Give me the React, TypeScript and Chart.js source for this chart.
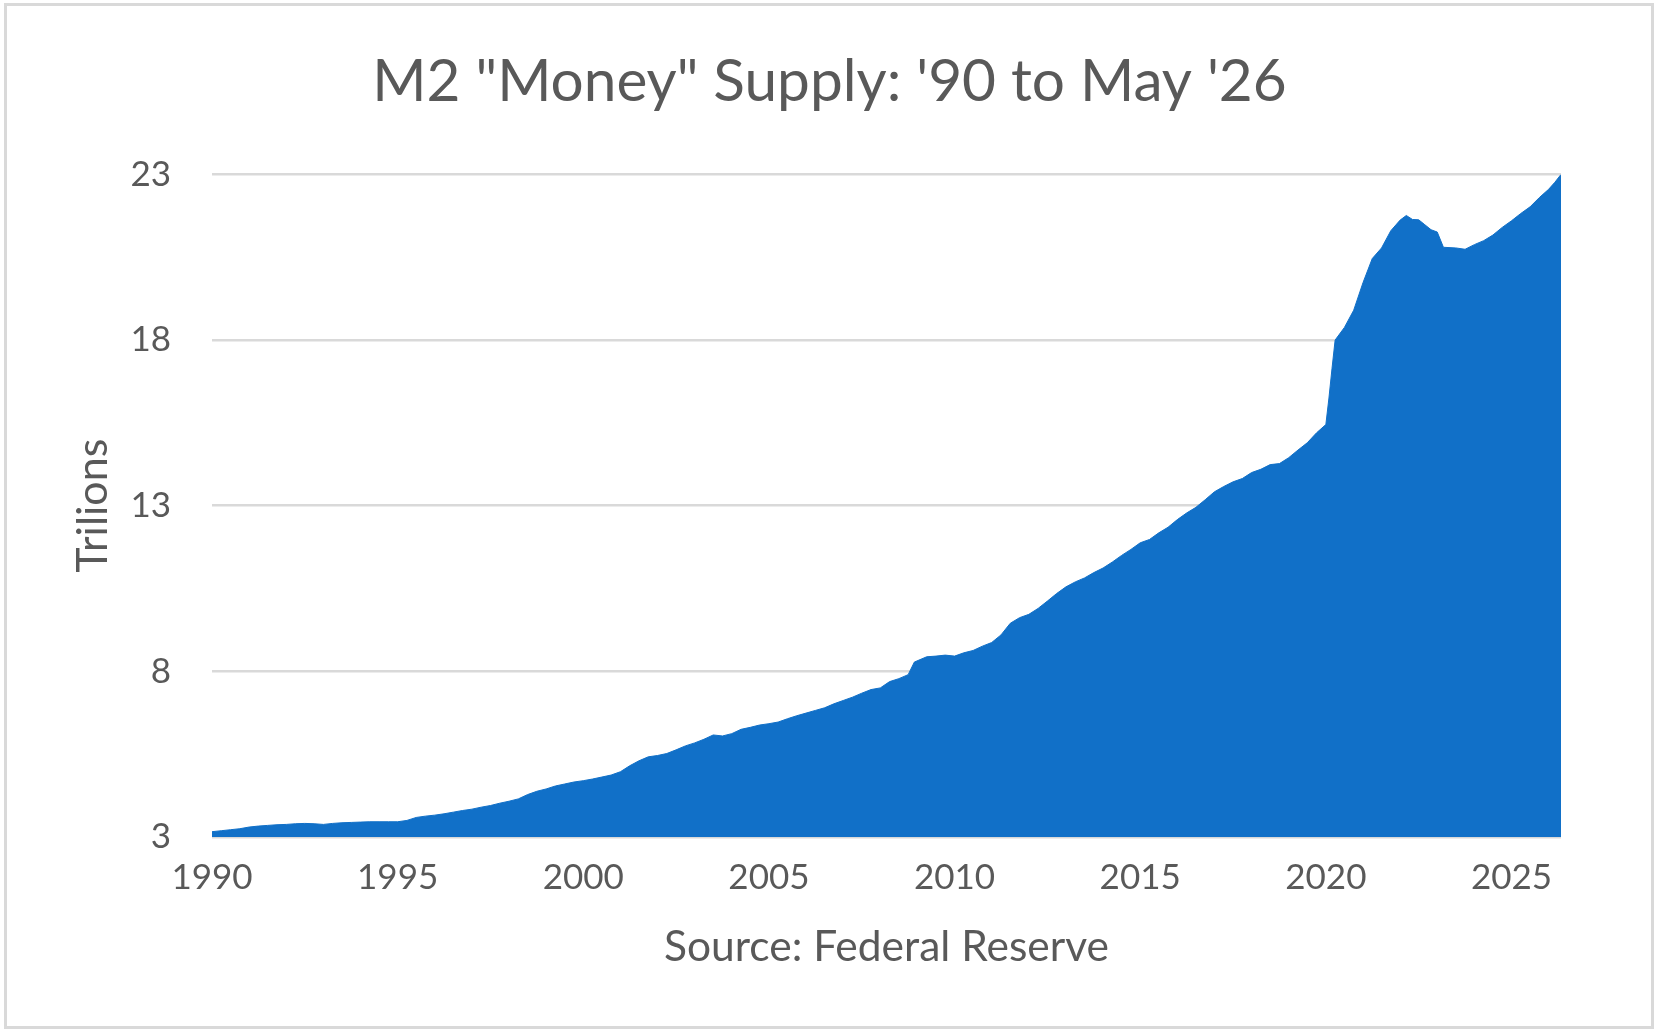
import { useEffect, useRef } from "react";
import { Chart, registerables } from "chart.js";

Chart.register(...registerables);

const dates = [
  "1990-01", "1990-04", "1990-07", "1990-10",
  "1991-01", "1991-04", "1991-07", "1991-10",
  "1992-01", "1992-04", "1992-07", "1992-10",
  "1993-01", "1993-04", "1993-07", "1993-10",
  "1994-01", "1994-04", "1994-07", "1994-10",
  "1995-01", "1995-04", "1995-07", "1995-10",
  "1996-01", "1996-04", "1996-07", "1996-10",
  "1997-01", "1997-04", "1997-07", "1997-10",
  "1998-01", "1998-04", "1998-07", "1998-10",
  "1999-01", "1999-04", "1999-07", "1999-10",
  "2000-01", "2000-04", "2000-07", "2000-10",
  "2001-01", "2001-04", "2001-07", "2001-10",
  "2002-01", "2002-04", "2002-07", "2002-10",
  "2003-01", "2003-04", "2003-07", "2003-10",
  "2004-01", "2004-04", "2004-07", "2004-10",
  "2005-01", "2005-04", "2005-07", "2005-10",
  "2006-01", "2006-04", "2006-07", "2006-10",
  "2007-01", "2007-04", "2007-07", "2007-10",
  "2008-01", "2008-04", "2008-07", "2008-10", "2008-12",
  "2009-04", "2009-07", "2009-10",
  "2010-01", "2010-04", "2010-07", "2010-10",
  "2011-01", "2011-04", "2011-07", "2011-10",
  "2012-01", "2012-04", "2012-07", "2012-10",
  "2013-01", "2013-04", "2013-07", "2013-10",
  "2014-01", "2014-04", "2014-07", "2014-10",
  "2015-01", "2015-04", "2015-07", "2015-10",
  "2016-01", "2016-04", "2016-07", "2016-10",
  "2017-01", "2017-04", "2017-07", "2017-10",
  "2018-01", "2018-04", "2018-07", "2018-10",
  "2019-01", "2019-04", "2019-07", "2019-10",
  "2020-01", "2020-02", "2020-03", "2020-04", "2020-07", "2020-10",
  "2021-01", "2021-04", "2021-07", "2021-10",
  "2022-01", "2022-03", "2022-05", "2022-07", "2022-09", "2022-11",
  "2023-01", "2023-03", "2023-07", "2023-10",
  "2024-01", "2024-04", "2024-07", "2024-10",
  "2025-01", "2025-04", "2025-07", "2025-10",
  "2026-01", "2026-03", "2026-05",
];

const m2Trillions = [
  3.16, 3.19, 3.22, 3.25,
  3.3, 3.33, 3.35, 3.37,
  3.38, 3.4, 3.41, 3.4,
  3.38, 3.41, 3.43, 3.44,
  3.45, 3.46, 3.46, 3.46,
  3.46, 3.5, 3.59, 3.63,
  3.66, 3.7, 3.75, 3.8,
  3.84, 3.9, 3.95, 4.02,
  4.08, 4.15, 4.28, 4.38,
  4.45, 4.54, 4.6, 4.66,
  4.7, 4.75, 4.81, 4.87,
  4.97, 5.15, 5.3, 5.42,
  5.46, 5.52, 5.63, 5.75,
  5.84, 5.95, 6.08, 6.05,
  6.12, 6.25, 6.31, 6.38,
  6.42, 6.47, 6.57, 6.66,
  6.74, 6.82, 6.9, 7.02,
  7.12, 7.22, 7.34, 7.45,
  7.5, 7.69, 7.78, 7.9, 8.28,
  8.44, 8.46, 8.49,
  8.46, 8.56, 8.63, 8.76,
  8.87, 9.1, 9.45, 9.62,
  9.72, 9.9, 10.12, 10.35,
  10.55, 10.7, 10.82, 10.98,
  11.12, 11.3, 11.5, 11.68,
  11.88, 11.98, 12.18, 12.35,
  12.58, 12.78, 12.95, 13.18,
  13.42, 13.58, 13.72, 13.82,
  14.0, 14.1, 14.24, 14.27,
  14.45, 14.68, 14.9, 15.2,
  15.45, 16.25, 17.15, 18.0, 18.38, 18.9,
  19.73, 20.46, 20.78, 21.3,
  21.62, 21.76, 21.64, 21.63, 21.48, 21.33,
  21.26, 20.8, 20.78, 20.74,
  20.88, 21.0, 21.17, 21.4,
  21.6, 21.82, 22.02, 22.3,
  22.55, 22.76, 23.0,
];

const xTickYears = [1990, 1995, 2000, 2005, 2010, 2015, 2020, 2025];
const xTickLabels = ["1990", "1995", "2000", "2005", "2010", "2015", "2020", "2025"];
const yTickValues = [3, 8, 13, 18, 23];
const yTickLabels = ["3", "8", "13", "18", "23"];

const chartTitle = "M2 \"Money\" Supply: '90 to May '26";
const yAxisTitle = "Trilions";
const xAxisTitle = "Source: Federal Reserve";

const FONT = "Lato, 'Open Sans', sans-serif";
const TEXT = "#595959";
const FILL = "#1170C8";
const GRID = "#D9D9D9";

function toYear(d: string): number {
  const [y, m] = d.split("-").map(Number);
  return y + (m - 1) / 12;
}

export default function App() {
  const ref = useRef<HTMLCanvasElement | null>(null);

  useEffect(() => {
    document.body.style.margin = "0";
    const canvas = ref.current;
    if (!canvas) return;
    const points = dates.map((d, i) => ({ x: toYear(d), y: m2Trillions[i] }));
    const chart = new Chart(canvas, {
      type: "line",
      data: {
        datasets: [
          {
            data: points,
            fill: "start",
            backgroundColor: FILL,
            borderColor: FILL,
            borderWidth: 1,
            pointRadius: 0,
            tension: 0,
          },
        ],
      },
      options: {
        animation: false,
        responsive: true,
        maintainAspectRatio: false,
        layout: { padding: 0 },
        plugins: {
          legend: { display: false },
          tooltip: { enabled: false },
          title: {
            display: true,
            text: chartTitle,
            color: TEXT,
            font: { family: FONT, size: 58.5, weight: "normal" },
            padding: { top: 46.6, bottom: 57.6 },
          },
        },
        scales: {
          x: {
            type: "linear",
            min: 1990,
            max: toYear(dates[dates.length - 1]),
            afterBuildTicks: (s: any) => {
              s.ticks = xTickYears.map((v) => ({ value: v }));
            },
            afterFit: (s: any) => {
              s.height = 198;
            },
            grid: { display: false, drawTicks: false },
            border: { display: false },
            ticks: {
              color: TEXT,
              font: { family: FONT, size: 35 },
              padding: 20,
              maxRotation: 0,
              autoSkip: false,
              callback: (_v: any, i: number) => xTickLabels[i],
            },
            title: {
              display: true,
              text: xAxisTitle,
              color: TEXT,
              font: { family: FONT, size: 42.5 },
              padding: { top: 0, bottom: 62 },
            },
          },
          y: {
            min: 3,
            max: 23,
            afterBuildTicks: (s: any) => {
              s.ticks = yTickValues.map((v) => ({ value: v }));
            },
            afterFit: (s: any) => {
              s.width = 212;
            },
            grid: { color: GRID, lineWidth: 2.5, drawTicks: false },
            border: { display: false },
            ticks: {
              color: TEXT,
              font: { family: FONT, size: 35 },
              padding: 41,
              callback: (_v: any, i: number) => yTickLabels[i],
            },
            title: {
              display: true,
              text: yAxisTitle,
              color: TEXT,
              font: { family: FONT, size: 43 },
              padding: { top: 67, bottom: 0 },
            },
          },
          yRight: {
            position: "right",
            display: true,
            afterFit: (s: any) => {
              s.width = 98;
            },
            grid: { display: false, drawTicks: false },
            border: { display: false },
            ticks: { display: false },
          },
        },
      },
    } as any);
    return () => chart.destroy();
  }, []);

  return (
    <div style={{ position: "relative", width: 1659, height: 1035, background: "#fff", overflow: "hidden" }}>
      <div style={{ position: "absolute", left: 0, top: 0, width: 1659, height: 1035 }}>
        <canvas ref={ref} />
      </div>
      <div
        style={{
          position: "absolute",
          left: 4,
          top: 3,
          width: 1650,
          height: 1026,
          boxSizing: "border-box",
          border: "3px solid #d9d9d9",
          pointerEvents: "none",
        }}
      />
    </div>
  );
}
